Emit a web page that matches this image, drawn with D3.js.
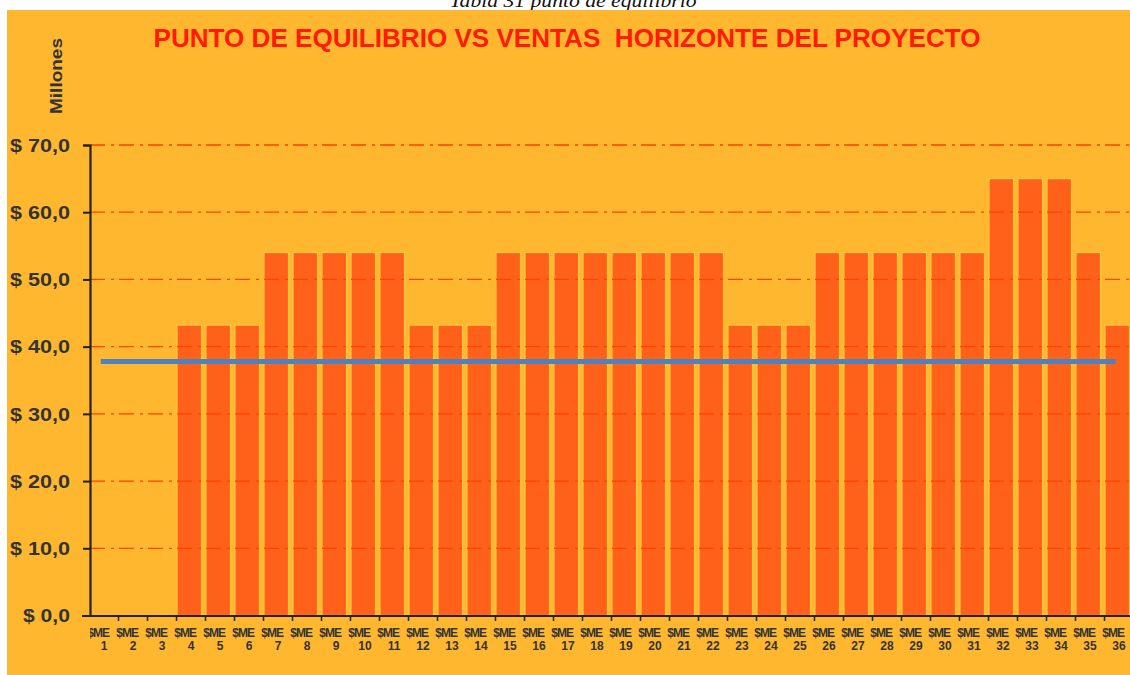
<!DOCTYPE html>
<html>
<head>
<meta charset="utf-8">
<script src="https://cdn.jsdelivr.net/npm/d3@7"></script>
<style>
  html, body { margin: 0; padding: 0; background: #ffffff; }
  svg { display: block; }
</style>
</head>
<body>
<svg id="chart" width="1130" height="675"></svg>
<script>
// Monthly sales (millions) across the project horizon vs. break-even point
const months = d3.range(1, 37);
const ventas = [
  0, 0, 0,
  43.2, 43.2, 43.2,
  54.0, 54.0, 54.0, 54.0, 54.0,
  43.2, 43.2, 43.2,
  54.0, 54.0, 54.0, 54.0, 54.0, 54.0, 54.0, 54.0,
  43.2, 43.2, 43.2,
  54.0, 54.0, 54.0, 54.0, 54.0, 54.0,
  65.0, 65.0, 65.0,
  54.0,
  43.2
];
const puntoEquilibrio = months.map(() => 37.8);
const yTicks = [0, 10, 20, 30, 40, 50, 60, 70];
const monthPrefix = "$ME";

const titulo = "PUNTO DE EQUILIBRIO VS VENTAS  HORIZONTE DEL PROYECTO";
const caption = "Tabla 31 punto de equilibrio";

const svg = d3.select("#chart");

// caption above the chart area
svg.append("text")
  .attr("x", 573).attr("y", 7)
  .attr("text-anchor", "middle")
  .attr("font-family", "Liberation Serif, Times New Roman, serif")
  .attr("font-style", "italic")
  .attr("font-size", 19)
  .attr("textLength", 247)
  .attr("lengthAdjust", "spacingAndGlyphs")
  .attr("fill", "#111")
  .text(caption);

// chart background
svg.append("rect")
  .attr("x", 7).attr("y", 10)
  .attr("width", 1123).attr("height", 665)
  .attr("fill", "#FFB730");

svg.append("text")
  .attr("x", 567).attr("y", 47)
  .attr("text-anchor", "middle")
  .attr("font-family", "Liberation Sans, Arial, sans-serif")
  .attr("font-weight", "bold")
  .attr("font-size", 26)
  .attr("textLength", 827)
  .attr("lengthAdjust", "spacingAndGlyphs")
  .attr("fill", "#FF1A00")
  .style("white-space", "pre")
  .text(titulo);

svg.append("text")
  .attr("transform", "translate(62,76) rotate(-90)")
  .attr("text-anchor", "middle")
  .attr("font-family", "Liberation Sans, Arial, sans-serif")
  .attr("font-weight", "bold")
  .attr("font-size", 16)
  .attr("textLength", 76)
  .attr("lengthAdjust", "spacingAndGlyphs")
  .attr("fill", "#333")
  .text("Millones");

const x = d3.scaleBand().domain(months).range([89.5, 1133.5]).padding(0);
const y = d3.scaleLinear().domain([0, 70]).range([615.5, 145]);
const barW = x.bandwidth() - 4.5;

// sales bars
svg.append("g")
  .selectAll("rect")
  .data(months.filter((m, i) => ventas[i] > 0))
  .join("rect")
  .attr("x", m => x(m) + 0.5)
  .attr("y", m => y(ventas[m - 1]))
  .attr("width", barW)
  .attr("height", m => y(0) - y(ventas[m - 1]))
  .attr("fill", "#FF601A")
  .attr("stroke", "#FFC640")
  .attr("stroke-width", 1.2);

// dash-dot gridlines drawn over the bars
svg.append("g")
  .selectAll("line")
  .data(yTicks.filter(d => d > 0))
  .join("line")
  .attr("x1", 90).attr("x2", 1130)
  .attr("y1", d => y(d)).attr("y2", d => y(d))
  .attr("stroke", "#FF4300")
  .attr("stroke-width", 1.3)
  .attr("stroke-dasharray", "15,6,3,5");

// break-even line
const line = d3.line()
  .x(m => x(m) + barW / 2 - 1)
  .y((m, i) => y(puntoEquilibrio[i]));
svg.append("path")
  .datum(months)
  .attr("d", line)
  .attr("fill", "none")
  .attr("stroke", "#4F81BD")
  .attr("stroke-width", 5);

// y axis
const yAxis = svg.append("g")
  .attr("transform", "translate(90,0)")
  .call(d3.axisLeft(y)
    .tickValues(yTicks)
    .tickSize(7)
    .tickPadding(13)
    .tickFormat(d => "$ " + d.toFixed(1).replace(".", ",")));
yAxis.select(".domain").attr("stroke", "#222").attr("stroke-width", 2.2);
yAxis.selectAll(".tick line").attr("stroke", "#222").attr("stroke-width", 2);
yAxis.selectAll(".tick text")
  .attr("font-family", "Liberation Sans, Arial, sans-serif")
  .attr("font-weight", "bold")
  .attr("font-size", 18)
  .attr("textLength", d => d === 0 ? 47 : 60)
  .attr("lengthAdjust", "spacingAndGlyphs")
  .attr("fill", "#333")
  .attr("dy", "0.35em");

// x axis line and category boundary ticks
svg.append("line")
  .attr("x1", 82).attr("x2", 1130)
  .attr("y1", 616).attr("y2", 616)
  .attr("stroke", "#222").attr("stroke-width", 2);
svg.append("g")
  .selectAll("line")
  .data(months.slice(1))
  .join("line")
  .attr("x1", m => x(m)).attr("x2", m => x(m))
  .attr("y1", 616).attr("y2", 621)
  .attr("stroke", "#222").attr("stroke-width", 1.5);

// category labels
svg.append("clipPath").attr("id", "lblclip")
  .append("rect").attr("x", 90).attr("y", 600).attr("width", 1040).attr("height", 75);
const lbl = svg.append("g")
  .attr("clip-path", "url(#lblclip)")
  .attr("font-family", "Liberation Sans, Arial, sans-serif")
  .attr("font-weight", "bold")
  .attr("font-size", 12)
  .attr("fill", "#333");
lbl.selectAll("text.pre")
  .data(months)
  .join("text")
  .attr("class", "pre")
  .attr("x", m => x(m) + x.bandwidth() / 2 + 5)
  .attr("y", 637)
  .attr("text-anchor", "end")
  .attr("letter-spacing", -1)
  .text(monthPrefix);
lbl.selectAll("text.num")
  .data(months)
  .join("text")
  .attr("class", "num")
  .attr("x", m => x(m) + x.bandwidth() / 2)
  .attr("y", 650)
  .attr("text-anchor", "middle")
  .text(m => m);
</script>
</body>
</html>
